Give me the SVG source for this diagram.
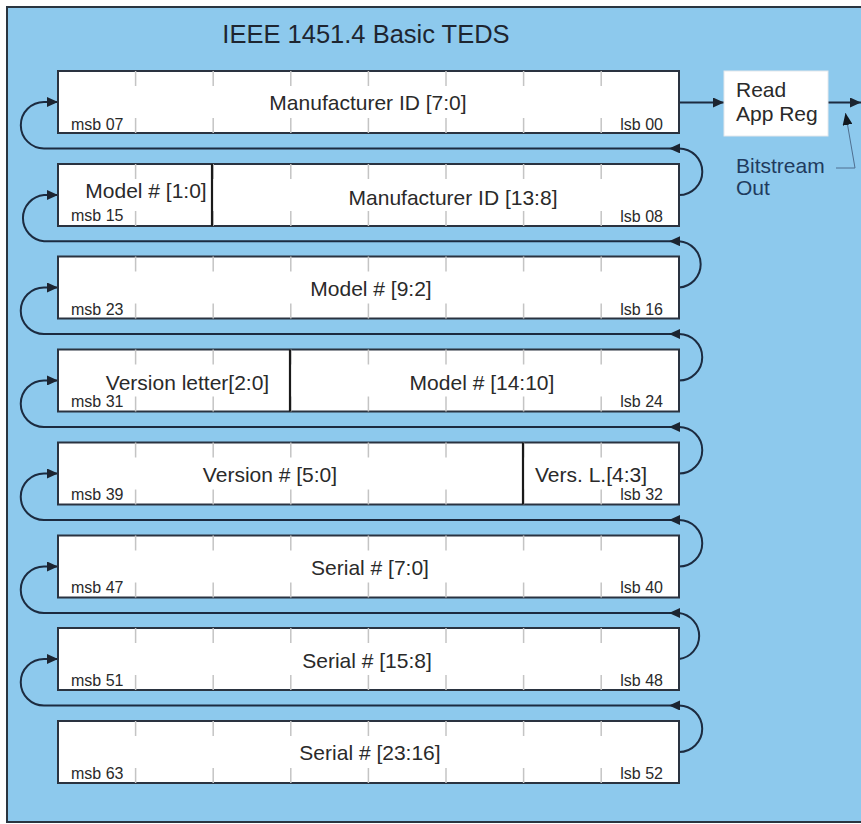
<svg xmlns="http://www.w3.org/2000/svg" width="861" height="824" viewBox="0 0 861 824">
<defs>
<style>
.reg{fill:#ffffff;stroke:#2a3340;stroke-width:2}
.tick{stroke:#c4c4c4;stroke-width:1.5}
.div{stroke:#1a1a1a;stroke-width:2.2}
.lbl{font-family:"Liberation Sans",Arial,sans-serif;font-size:21px;fill:#2a2a2a}
.sm{font-family:"Liberation Sans",Arial,sans-serif;font-size:16px;fill:#2a2a2a}
.conn{fill:none;stroke:#1c2b40;stroke-width:2}
.mid{text-anchor:middle}
.end{text-anchor:end}
</style>
<marker id="ah" markerUnits="userSpaceOnUse" markerWidth="11" markerHeight="10" refX="11" refY="5" orient="auto">
<path d="M0,0 L11,5 L0,10 z" fill="#1c2430"/>
</marker>
<marker id="ahs" markerUnits="userSpaceOnUse" markerWidth="12" markerHeight="10" refX="12" refY="5" orient="auto">
<path d="M0,0 L12,5 L0,10 z" fill="#111820"/>
</marker>
<g id="ticks">
<line class="tick" x1="135.6" y1="0" x2="135.6" y2="15"/>
<line class="tick" x1="213.2" y1="0" x2="213.2" y2="15"/>
<line class="tick" x1="290.8" y1="0" x2="290.8" y2="15"/>
<line class="tick" x1="368.4" y1="0" x2="368.4" y2="15"/>
<line class="tick" x1="446" y1="0" x2="446" y2="15"/>
<line class="tick" x1="523.6" y1="0" x2="523.6" y2="15"/>
<line class="tick" x1="601.2" y1="0" x2="601.2" y2="15"/>
<line class="tick" x1="135.6" y1="47" x2="135.6" y2="62"/>
<line class="tick" x1="213.2" y1="47" x2="213.2" y2="62"/>
<line class="tick" x1="290.8" y1="47" x2="290.8" y2="62"/>
<line class="tick" x1="368.4" y1="47" x2="368.4" y2="62"/>
<line class="tick" x1="446" y1="47" x2="446" y2="62"/>
<line class="tick" x1="523.6" y1="47" x2="523.6" y2="62"/>
<line class="tick" x1="601.2" y1="47" x2="601.2" y2="62"/>
</g>
</defs>
<rect x="0" y="0" width="861" height="824" fill="#ffffff"/>
<rect x="7" y="7" width="880" height="815" fill="#8dc9ed" stroke="#2a3540" stroke-width="2"/>
<text x="366" y="43" class="mid" style="font-family:'Liberation Sans',Arial,sans-serif;font-size:25.5px;fill:#1e2530">IEEE 1451.4 Basic TEDS</text>

<g id="connectors">
<!-- right loops -->
<path class="conn" d="M679,195 A23.2,23.2 0 0 0 679,148.4 L669,148.4" marker-end="url(#ah)"/>
<path class="conn" d="M679,287.5 A23.2,23.2 0 0 0 679,241.2 L669,241.2" marker-end="url(#ah)"/>
<path class="conn" d="M679,380.5 A23.2,23.2 0 0 0 679,334 L669,334" marker-end="url(#ah)"/>
<path class="conn" d="M679,473.5 A23.2,23.2 0 0 0 679,427 L669,427" marker-end="url(#ah)"/>
<path class="conn" d="M679,566.5 A23.2,23.2 0 0 0 679,520 L669,520" marker-end="url(#ah)"/>
<path class="conn" d="M679,659 A23.2,23.2 0 0 0 679,613 L669,613" marker-end="url(#ah)"/>
<path class="conn" d="M679,752 A23.2,23.2 0 0 0 679,705.5 L669,705.5" marker-end="url(#ah)"/>
<!-- gap lines and left loops -->
<path class="conn" d="M669,148.4 L44,148.4 A23.2,23.2 0 0 1 44,102 L58,102" marker-end="url(#ah)"/>
<path class="conn" d="M669,241.2 L44,241.2 A23.2,23.2 0 0 1 44,195 L58,195" marker-end="url(#ah)"/>
<path class="conn" d="M669,334 L44,334 A23.2,23.2 0 0 1 44,287.5 L58,287.5" marker-end="url(#ah)"/>
<path class="conn" d="M669,427 L44,427 A23.2,23.2 0 0 1 44,380.5 L58,380.5" marker-end="url(#ah)"/>
<path class="conn" d="M669,520 L44,520 A23.2,23.2 0 0 1 44,473.5 L58,473.5" marker-end="url(#ah)"/>
<path class="conn" d="M669,613 L44,613 A23.2,23.2 0 0 1 44,566.5 L58,566.5" marker-end="url(#ah)"/>
<path class="conn" d="M669,705.5 L44,705.5 A23.2,23.2 0 0 1 44,659 L58,659" marker-end="url(#ah)"/>
<!-- output arrows -->
<path class="conn" d="M679,102.5 L724,102.5" marker-end="url(#ah)"/>
<path class="conn" d="M828,102.5 L861,102.5" marker-end="url(#ah)"/>
<path d="M836,168 L855,168 L845.5,113" fill="none" stroke="#4f6f90" stroke-width="1" marker-end="url(#ahs)"/>
</g>

<g id="row1">
<rect class="reg" x="58" y="71" width="621" height="62"/>
<use href="#ticks" y="71"/>
<text class="lbl mid" x="368" y="110">Manufacturer ID [7:0]</text>
<text class="sm" x="71" y="130">msb 07</text>
<text class="sm end" x="663" y="130">lsb 00</text>
</g>
<g id="row2">
<rect class="reg" x="58" y="164" width="621" height="62"/>
<use href="#ticks" y="164"/>
<line class="div" x1="212" y1="164" x2="212" y2="226"/>
<text class="lbl mid" x="146" y="198">Model # [1:0]</text>
<text class="lbl mid" x="453" y="205">Manufacturer ID [13:8]</text>
<text class="sm" x="71" y="221">msb 15</text>
<text class="sm end" x="663" y="222">lsb 08</text>
</g>
<g id="row3">
<rect class="reg" x="58" y="256.5" width="621" height="62"/>
<use href="#ticks" y="256.5"/>
<text class="lbl mid" x="371" y="295.5">Model # [9:2]</text>
<text class="sm" x="71" y="314.5">msb 23</text>
<text class="sm end" x="663" y="314.5">lsb 16</text>
</g>
<g id="row4">
<rect class="reg" x="58" y="349.5" width="621" height="62"/>
<use href="#ticks" y="349.5"/>
<line class="div" x1="290" y1="349.5" x2="290" y2="411.5"/>
<text class="lbl mid" x="187.5" y="390">Version letter[2:0]</text>
<text class="lbl mid" x="482" y="390">Model # [14:10]</text>
<text class="sm" x="71" y="407">msb 31</text>
<text class="sm end" x="663" y="407">lsb 24</text>
</g>
<g id="row5">
<rect class="reg" x="58" y="442.5" width="621" height="62"/>
<use href="#ticks" y="442.5"/>
<line class="div" x1="523" y1="442.5" x2="523" y2="504.5"/>
<text class="lbl mid" x="270" y="482">Version # [5:0]</text>
<text class="lbl" x="535" y="482">Vers. L.[4:3]</text>
<text class="sm" x="71" y="500">msb 39</text>
<text class="sm end" x="663" y="500">lsb 32</text>
</g>
<g id="row6">
<rect class="reg" x="58" y="535.5" width="621" height="62"/>
<use href="#ticks" y="535.5"/>
<text class="lbl mid" x="370" y="575">Serial # [7:0]</text>
<text class="sm" x="71" y="593">msb 47</text>
<text class="sm end" x="663" y="593">lsb 40</text>
</g>
<g id="row7">
<rect class="reg" x="58" y="628" width="621" height="62"/>
<use href="#ticks" y="628"/>
<text class="lbl mid" x="367" y="668">Serial # [15:8]</text>
<text class="sm" x="71" y="686">msb 51</text>
<text class="sm end" x="663" y="686">lsb 48</text>
</g>
<g id="row8">
<rect class="reg" x="58" y="721" width="621" height="62"/>
<use href="#ticks" y="721"/>
<text class="lbl mid" x="370" y="760">Serial # [23:16]</text>
<text class="sm" x="71" y="779">msb 63</text>
<text class="sm end" x="663" y="779">lsb 52</text>
</g>
<g id="readAppReg">
<rect x="724" y="71" width="104" height="65" fill="#ffffff" stroke="#e4e8ec" stroke-width="1"/>
<text class="lbl" x="736" y="96.5">Read</text>
<text class="lbl" x="736" y="121">App Reg</text>
</g>
<g id="bitstreamOut">
<text x="736" y="173" style="font-family:'Liberation Sans',Arial,sans-serif;font-size:21px;fill:#1f3b5e">Bitstream</text>
<text x="736" y="195" style="font-family:'Liberation Sans',Arial,sans-serif;font-size:21px;fill:#1f3b5e">Out</text>
</g>
</svg>
